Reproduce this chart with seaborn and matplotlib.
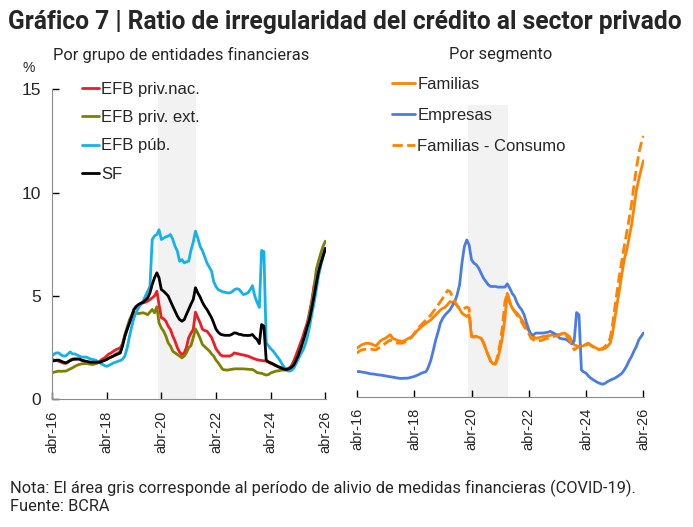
import numpy as np
import pandas as pd
import matplotlib
matplotlib.use('Agg')
import matplotlib.pyplot as plt
import seaborn as sns

# monthly data, abr-16 .. abr-26 (each row: abr .. mar)
efb_priv_nac = [
    1.93, 1.90, 1.88, 1.85, 1.80, 1.76, 1.74, 1.80, 1.90, 1.96, 1.96, 1.96,
    1.96, 1.90, 1.85, 1.80, 1.78, 1.77, 1.77, 1.80, 1.82, 1.85, 1.95, 2.00,
    2.10, 2.20, 2.25, 2.33, 2.40, 2.45, 2.50, 2.70, 3.06, 3.40, 3.78, 4.05,
    4.35, 4.45, 4.54, 4.60, 4.67, 4.70, 4.75, 4.83, 4.91, 5.00, 5.23, 4.59,
    3.95, 3.90, 3.78, 3.54, 3.38, 3.06, 2.82, 2.50, 2.29, 2.17, 2.25, 2.50,
    2.98, 3.20, 3.38, 4.22, 3.95, 3.70, 3.40, 3.33, 3.30, 3.15, 3.00, 2.74,
    2.45, 2.30, 2.15, 2.10, 2.10, 2.10, 2.10, 2.15, 2.25, 2.22, 2.20, 2.17,
    2.15, 2.12, 2.10, 2.05, 2.00, 1.96, 1.92, 1.90, 1.88, 1.87, 1.85, 1.80,
    1.74, 1.70, 1.63, 1.60, 1.55, 1.53, 1.50, 1.48, 1.52, 1.62, 1.85, 2.10,
    2.40, 2.70, 3.00, 3.35, 3.70, 4.20, 4.75, 5.50, 5.95, 6.10, 6.60, 6.95,
    7.30]
efb_priv_ext = [
    1.29, 1.32, 1.35, 1.37, 1.36, 1.37, 1.37, 1.42, 1.48, 1.53, 1.60, 1.65,
    1.69, 1.72, 1.73, 1.74, 1.72, 1.70, 1.69, 1.72, 1.76, 1.80, 1.85, 1.90,
    1.93, 2.00, 2.05, 2.10, 2.20, 2.25, 2.33, 2.70, 3.14, 3.50, 3.86, 4.05,
    4.19, 4.17, 4.15, 4.17, 4.19, 4.15, 4.10, 4.22, 4.35, 4.19, 4.48, 3.70,
    3.46, 3.30, 3.06, 2.74, 2.58, 2.33, 2.25, 2.17, 2.10, 2.01, 2.10, 2.25,
    2.50, 2.60, 2.98, 3.41, 3.20, 2.95, 2.66, 2.55, 2.45, 2.35, 2.20, 2.10,
    1.90, 1.77, 1.60, 1.45, 1.43, 1.42, 1.44, 1.46, 1.48, 1.48, 1.48, 1.48,
    1.48, 1.47, 1.46, 1.45, 1.45, 1.38, 1.30, 1.28, 1.26, 1.22, 1.18, 1.20,
    1.28, 1.32, 1.36, 1.38, 1.40, 1.42, 1.42, 1.42, 1.45, 1.55, 1.65, 1.85,
    2.10, 2.40, 2.74, 3.10, 3.54, 4.10, 4.67, 5.40, 6.28, 6.70, 7.09, 7.40,
    7.65]
efb_pub = [
    2.10, 2.20, 2.25, 2.25, 2.15, 2.10, 2.10, 2.20, 2.30, 2.20, 2.20, 2.15,
    2.10, 2.05, 2.05, 2.05, 2.00, 1.95, 1.93, 1.90, 1.85, 1.77, 1.70, 1.65,
    1.60, 1.65, 1.70, 1.77, 1.80, 1.85, 1.88, 1.95, 2.10, 2.50, 3.06, 3.50,
    3.95, 4.20, 4.43, 4.60, 4.75, 5.00, 5.23, 5.47, 7.73, 7.90, 7.97, 8.20,
    7.73, 7.80, 7.86, 7.90, 7.97, 7.73, 7.40, 7.17, 6.68, 6.76, 6.60, 6.65,
    6.68, 7.20, 7.60, 8.13, 7.80, 7.40, 7.20, 6.90, 6.60, 6.40, 6.20, 5.70,
    5.45, 5.31, 5.25, 5.20, 5.18, 5.15, 5.15, 5.20, 5.30, 5.35, 5.33, 5.20,
    5.07, 5.10, 5.15, 5.30, 5.50, 5.00, 4.70, 4.45, 7.20, 7.15, 2.75, 2.60,
    2.45, 2.35, 2.20, 2.05, 1.90, 1.70, 1.55, 1.40, 1.37, 1.40, 1.50, 1.70,
    1.93, 2.15, 2.35, 2.60, 3.00, 3.50, 4.10, 4.67, 5.30, 6.00, 6.50, 6.90,
    7.30]
sf = [
    1.85, 1.87, 1.90, 1.90, 1.85, 1.80, 1.77, 1.82, 1.88, 1.93, 1.95, 1.95,
    1.95, 1.90, 1.87, 1.85, 1.82, 1.80, 1.80, 1.80, 1.80, 1.80, 1.85, 1.88,
    1.93, 2.00, 2.05, 2.10, 2.15, 2.20, 2.25, 2.60, 3.06, 3.40, 3.70, 4.00,
    4.35, 4.50, 4.59, 4.65, 4.70, 4.80, 4.91, 5.15, 5.56, 5.88, 6.12, 5.88,
    5.31, 5.23, 5.12, 5.00, 4.75, 4.50, 4.27, 4.03, 3.86, 3.78, 3.86, 4.10,
    4.35, 4.60, 4.83, 5.40, 5.15, 4.95, 4.70, 4.50, 4.35, 4.15, 3.95, 3.70,
    3.40, 3.25, 3.15, 3.12, 3.10, 3.10, 3.10, 3.15, 3.22, 3.20, 3.15, 3.14,
    3.10, 3.10, 3.09, 3.10, 3.14, 3.00, 2.90, 2.70, 3.62, 3.54, 1.90, 1.82,
    1.77, 1.72, 1.66, 1.60, 1.55, 1.50, 1.46, 1.45, 1.48, 1.55, 1.65, 1.85,
    2.10, 2.40, 2.75, 3.10, 3.50, 3.86, 4.40, 4.99, 5.60, 6.20, 6.60, 6.92,
    7.30]

familias = [
    2.35, 2.43, 2.51, 2.55, 2.59, 2.58, 2.56, 2.50, 2.46, 2.60, 2.72, 2.78,
    2.83, 2.92, 3.00, 2.83, 2.78, 2.72, 2.70, 2.67, 2.72, 2.79, 2.85, 2.91,
    3.03, 3.16, 3.27, 3.37, 3.47, 3.56, 3.64, 3.72, 3.84, 3.96, 4.08, 4.20,
    4.27, 4.33, 4.46, 4.60, 4.56, 4.52, 4.40, 4.24, 4.04, 3.96, 3.88, 3.96,
    2.91, 2.88, 2.91, 2.88, 2.83, 2.60, 2.30, 2.00, 1.72, 1.60, 1.58, 1.85,
    2.30, 2.90, 3.80, 5.00, 4.55, 4.30, 4.15, 4.04, 3.90, 3.72, 3.55, 3.35,
    3.20, 3.00, 2.90, 2.83, 2.85, 2.88, 2.91, 2.93, 2.95, 2.97, 3.00, 3.00,
    3.00, 3.02, 3.05, 3.08, 3.00, 2.91, 2.70, 2.51, 2.47, 2.43, 2.45, 2.47,
    2.55, 2.59, 2.50, 2.43, 2.37, 2.30, 2.30, 2.30, 2.35, 2.45, 2.59, 3.00,
    3.75, 4.50, 5.20, 5.95, 6.65, 7.10, 7.70, 8.30, 9.10, 9.95, 10.50, 10.95,
    11.40]
empresas = [
    1.22, 1.22, 1.20, 1.18, 1.16, 1.13, 1.11, 1.10, 1.08, 1.06, 1.05, 1.03,
    1.01, 0.99, 0.97, 0.95, 0.93, 0.91, 0.89, 0.89, 0.90, 0.90, 0.92, 0.95,
    0.98, 1.03, 1.08, 1.14, 1.18, 1.22, 1.45, 1.79, 2.25, 2.75, 3.15, 3.56,
    3.80, 3.96, 4.08, 4.20, 4.40, 4.60, 4.93, 5.41, 6.46, 7.26, 7.58, 7.34,
    6.62, 6.46, 6.38, 6.22, 5.97, 5.73, 5.57, 5.41, 5.33, 5.33, 5.33, 5.30,
    5.30, 5.30, 5.30, 5.46, 5.25, 5.00, 4.85, 4.55, 4.35, 4.20, 3.96, 3.60,
    3.25, 3.00, 3.00, 3.08, 3.08, 3.08, 3.08, 3.10, 3.12, 3.16, 3.10, 3.04,
    2.95, 2.83, 2.80, 2.79, 2.75, 2.65, 2.56, 2.70, 4.07, 3.96, 1.30, 1.20,
    1.14, 1.00, 0.90, 0.82, 0.75, 0.68, 0.64, 0.61, 0.66, 0.74, 0.80, 0.85,
    0.90, 0.97, 1.05, 1.14, 1.30, 1.50, 1.75, 1.95, 2.20, 2.43, 2.75, 2.90,
    3.08]
familias_consumo = [
    2.11, 2.20, 2.27, 2.29, 2.30, 2.30, 2.30, 2.28, 2.27, 2.35, 2.43, 2.50,
    2.59, 2.67, 2.75, 2.67, 2.62, 2.59, 2.59, 2.59, 2.64, 2.72, 2.80, 2.88,
    3.05, 3.24, 3.36, 3.48, 3.60, 3.72, 3.84, 3.96, 4.12, 4.28, 4.44, 4.60,
    4.77, 4.93, 5.14, 5.09, 4.85, 4.60, 4.40, 4.28, 4.24, 4.28, 4.33, 4.28,
    2.95, 2.90, 2.93, 2.90, 2.85, 2.62, 2.30, 2.00, 1.72, 1.60, 1.62, 2.00,
    2.60, 3.40, 4.60, 5.00, 4.60, 4.30, 4.12, 3.95, 3.80, 3.60, 3.40, 3.24,
    3.05, 2.83, 2.75, 2.67, 2.70, 2.72, 2.75, 2.80, 2.83, 2.87, 2.91, 2.93,
    2.95, 3.00, 3.05, 3.08, 2.90, 2.75, 2.50, 2.27, 2.35, 2.43, 2.45, 2.46,
    2.50, 2.56, 2.48, 2.40, 2.33, 2.27, 2.30, 2.35, 2.45, 2.60, 2.83, 3.40,
    4.30, 5.10, 5.90, 6.60, 7.30, 7.95, 8.60, 9.30, 10.20, 11.00, 11.75, 12.20,
    12.60]

fechas = pd.date_range('2016-04-01', periods=len(sf), freq='MS')
tick_fechas = pd.date_range('2016-04-01', '2026-04-01', freq='24MS')
tick_labels = ['abr-16', 'abr-18', 'abr-20', 'abr-22', 'abr-24', 'abr-26']
alivio = (pd.Timestamp('2020-02-22'), pd.Timestamp('2021-07-12'))

sns.set_style('white')
plt.rcParams['font.family'] = ['Liberation Sans', 'DejaVu Sans']

fig = plt.figure(figsize=(6.93, 5.27), dpi=100)
ax1 = fig.add_axes([0.075, 0.242, 0.396, 0.589])
ax2 = fig.add_axes([0.515, 0.247, 0.415, 0.554])

left_series = [
    (efb_priv_nac, 'EFB priv.nac.', '#ee1c25', '-'),
    (efb_priv_ext, 'EFB priv. ext.', '#808000', '-'),
    (efb_pub, 'EFB púb.', '#14b1ec', '-'),
    (sf, 'SF', '#000000', '-'),
]
right_series = [
    (familias, 'Familias', '#ff8200', '-'),
    (empresas, 'Empresas', '#4a7ce8', '-'),
    (familias_consumo, 'Familias - Consumo', '#ff8200', '--'),
]

for ax, series in [(ax1, left_series), (ax2, right_series)]:
    ax.axvspan(alivio[0], alivio[1], color='#f2f2f2', lw=0, zorder=0)
    for vals, name, col, ls in series:
        sns.lineplot(x=fechas, y=vals, ax=ax, color=col, linestyle=ls,
                     linewidth=2.0, label=name)
    ax.set_xlim(pd.Timestamp('2016-04-01'), pd.Timestamp('2026-04-15'))
    ax.set_xticks(tick_fechas)
    ax.set_xticklabels(tick_labels, rotation=90, fontsize=10.5)
    ax.tick_params(axis='x', direction='in', length=5, width=1, color='#000000', pad=8, bottom=True)
    for s in ['top', 'right']:
        ax.spines[s].set_visible(False)
    ax.spines['bottom'].set_color('#8c8c8c')
    ax.set_xlabel('')
    ax.set_ylabel('')

ax1.set_ylim(0, 15)
ax1.set_yticks([0, 5, 10, 15])
ax1.set_yticklabels(['0', '5', '10', '15'], fontsize=12.5)
ax1.tick_params(axis='y', direction='in', length=5, width=1, color='#000000', left=True, pad=8)
ax1.spines['left'].set_color('#8c8c8c')

ax2.set_ylim(0, 14.1)
ax2.set_yticks([])
ax2.spines['left'].set_visible(False)

ax1.legend(loc='upper left', bbox_to_anchor=(0.085, 1.045), frameon=False, fontsize=12,
           handlelength=1.0, handletextpad=0.15, labelspacing=0.8, borderaxespad=0)
ax2.legend(loc='upper left', bbox_to_anchor=(0.1, 1.12), frameon=False, fontsize=12,
           handlelength=1.35, handletextpad=0.15, labelspacing=0.98, borderaxespad=0)

fig.text(0.012, 0.958, 'Gráfico 7 | Ratio de irregularidad del crédito al sector privado',
         fontsize=17.7, fontweight='bold', family='Roboto', va='center', ha='left')
fig.text(0.076, 0.896, 'Por grupo de entidades financieras', fontsize=11.9, family='Roboto',
         va='center', ha='left')
fig.text(0.648, 0.896, 'Por segmento', fontsize=11.9, family='Roboto', va='center', ha='left')
fig.text(0.042, 0.871, '%', fontsize=10, va='center', ha='center')
fig.text(0.014, 0.074, 'Nota: El área gris corresponde al período de alivio de medidas financieras (COVID-19).',
         fontsize=11.8, family='Roboto', va='center', ha='left')
fig.text(0.014, 0.038, 'Fuente: BCRA', fontsize=11.8, family='Roboto', va='center', ha='left')

fig.savefig('out.png', dpi=100)
